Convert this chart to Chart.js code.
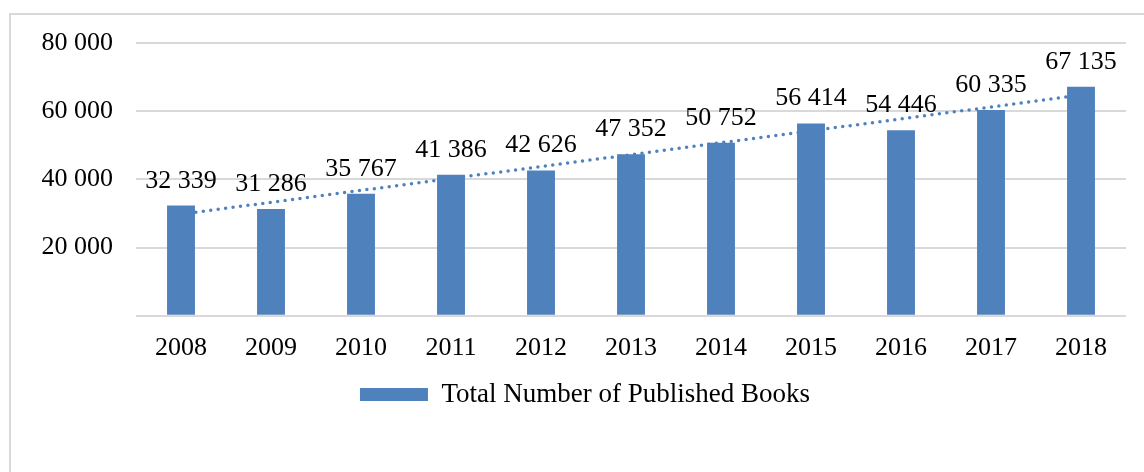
<!DOCTYPE html>
<html>
<head>
<meta charset="utf-8">
<script src="https://cdn.jsdelivr.net/npm/chart.js@4/dist/chart.umd.min.js"></script>
<style>
  body { margin: 0; background: #fff; }
  #frame {
    position: absolute; left: 9px; top: 13px; width: 1200px; height: 500px;
    border-left: 2px solid #d9d9d9; border-top: 2px solid #d9d9d9;
  }
  #wrap { position: absolute; left: 26px; top: 0; width: 1118px; height: 472px; }
</style>
</head>
<body>
<div id="frame"></div>
<div id="wrap"><canvas id="books"></canvas></div>
<script>
const years = ['2008', '2009', '2010', '2011', '2012', '2013', '2014', '2015', '2016', '2017', '2018'];
const books = [32339, 31286, 35767, 41386, 42626, 47352, 50752, 56414, 54446, 60335, 67135];
const yTicks = [0, 20000, 40000, 60000, 80000];

// linear trendline (least squares) like the Excel one
const n = books.length;
const mx = (n - 1) / 2;
const my = books.reduce((a, b) => a + b, 0) / n;
let sxy = 0, sxx = 0;
books.forEach((v, i) => { sxy += (i - mx) * (v - my); sxx += (i - mx) * (i - mx); });
const slope = sxy / sxx;
const trend = books.map((v, i) => my + slope * (i - mx));

const fmt = v => String(v).replace(/\B(?=(\d{3})+(?!\d))/g, ' ');
const serif = "'Liberation Serif', 'Times New Roman', serif";
const blue = '#4f81bd';

const barLabels = {
    id: 'barLabels',
    afterDatasetsDraw(chart) {
        const ctx = chart.ctx;
        const meta = chart.getDatasetMeta(0);
        ctx.save();
        ctx.font = '26px ' + serif;
        ctx.fillStyle = '#000';
        ctx.textAlign = 'center';
        ctx.textBaseline = 'alphabetic';
        meta.data.forEach((bar, i) => {
            ctx.fillText(fmt(books[i]), bar.x, bar.y - 18);
        });
        ctx.restore();
    }
};

// the legend sits a bit right of the plot centre in the original
const legendShift = {
    id: 'legendShift',
    afterLayout(chart) {
        chart.legend.left += 9;
        chart.legend.right += 9;
    }
};

const ctxt = document.getElementById('books');
const booksChart = new Chart(ctxt, {
    data: {
        labels: years,
        datasets: [{
            type: 'bar',
            label: 'Total Number of Published Books',
            data: books,
            backgroundColor: blue,
            barPercentage: 0.31,
            categoryPercentage: 1,
            order: 1
        }, {
            type: 'line',
            label: 'trend',
            data: trend,
            borderColor: blue,
            borderWidth: 3.5,
            borderDash: [0, 7.5],
            borderCapStyle: 'round',
            pointRadius: 0,
            fill: false,
            order: 2
        }]
    },
    options: {
        responsive: true,
        maintainAspectRatio: false,
        animation: false,
        layout: { padding: { top: 43, right: 18, bottom: 54, left: 0 } },
        plugins: {
            tooltip: { enabled: false },
            legend: {
                position: 'bottom',
                labels: {
                    filter: item => item.datasetIndex === 0,
                    boxWidth: 68,
                    boxHeight: 13,
                    padding: 0,
                    color: '#000',
                    font: { family: serif, size: 27 }
                }
            }
        },
        scales: {
            x: {
                grid: { display: false, drawTicks: false },
                border: { display: false },
                ticks: { color: '#000', padding: 17, font: { family: serif, size: 26 } }
            },
            y: {
                min: 0,
                max: 80000,
                afterBuildTicks: axis => { axis.ticks = yTicks.map(v => ({ value: v })); },
                afterFit: axis => { axis.width = 110; },
                grid: { color: '#d9d9d9', lineWidth: 2, drawTicks: false },
                border: { display: false },
                ticks: {
                    color: '#000',
                    padding: 23,
                    font: { family: serif, size: 26 },
                    callback: v => v === 0 ? '' : fmt(v)
                }
            }
        }
    },
    plugins: [barLabels, legendShift]
});
</script>
</body>
</html>
